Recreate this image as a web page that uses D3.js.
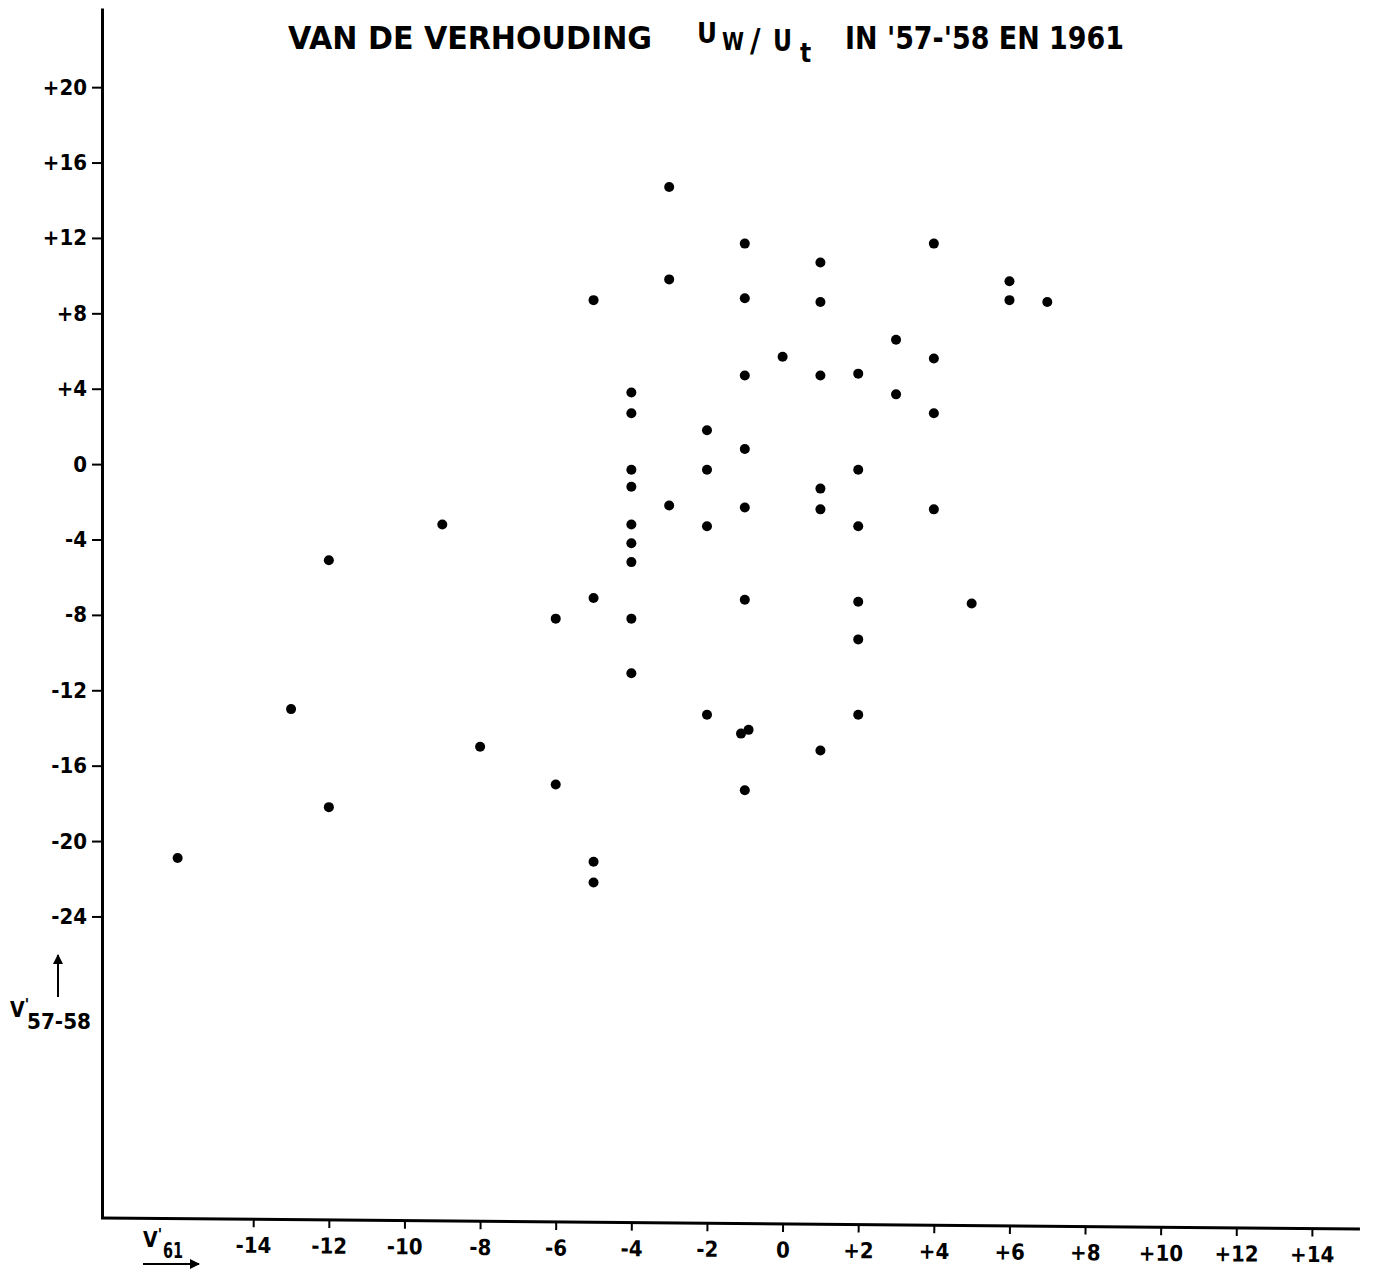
<!DOCTYPE html>
<html>
<head>
<meta charset="utf-8">
<script src="https://cdn.jsdelivr.net/npm/d3@7"></script>
<style>
  body { margin: 0; background: #fff; }
  svg { display: block; }
  text { font-family: "DejaVu Sans Condensed", "DejaVu Sans", sans-serif; font-weight: bold; fill: #000; }
</style>
</head>
<body>
<svg id="chart"></svg>
<script>
// V'61 (horizontal) en V'57-58 (vertical) per punt
const v61 = [-3, -1, 1, 4, -3, -5, -1, 1, 6, 6, 7, 3, 0, 4, -1, 1, 2, -4, 3, -4,
  4, -2, -1, -4, -2, 2, -4, 1, -3, -1, 1, 4, -9, -4, -2, 2, -4, -4, -12, -5,
  -1, 2, 5, -6, -4, 2, -4, -13, -2, 2, -1.1, -0.9, -8, 1, -6, -1, -12, -16, -5, -5];
const v5758 = [14.7, 11.7, 10.7, 11.7, 9.8, 8.7, 8.8, 8.6, 9.7, 8.7, 8.6, 6.6, 5.7, 5.6, 4.7, 4.7, 4.8, 3.8, 3.7, 2.7,
  2.7, 1.8, 0.8, -0.3, -0.3, -0.3, -1.2, -1.3, -2.2, -2.3, -2.4, -2.4, -3.2, -3.2, -3.3, -3.3, -4.2, -5.2, -5.1, -7.1,
  -7.2, -7.3, -7.4, -8.2, -8.2, -9.3, -11.1, -13, -13.3, -13.3, -14.3, -14.1, -15, -15.2, -17, -17.3, -18.2, -20.9, -21.1, -22.2];

const xTicks = [-14, -12, -10, -8, -6, -4, -2, 0, 2, 4, 6, 8, 10, 12, 14];
const yTicks = [20, 16, 12, 8, 4, 0, -4, -8, -12, -16, -20, -24];

const settings = {
  width: 1394,
  height: 1272,
  margin: { top: 8, left: 102, right: 1360, bottom: 1218 }
};
const m = settings.margin;

const svg = d3.select("#chart").attr("width", settings.width).attr("height", settings.height);

const x = d3.scaleLinear().domain([-18, 15.27]).range([m.left, m.right]);
const y = d3.scaleLinear().domain([-40, 24.2]).range([m.bottom, m.top]);

const fmt = d => d > 0 ? "+" + d : String(d);

// y-as
const gy = svg.append("g")
  .attr("transform", "translate(" + m.left + ",0)")
  .call(d3.axisLeft(y).tickValues(yTicks).tickFormat(fmt).tickSize(10).tickSizeOuter(0).tickPadding(5));
gy.select(".domain").attr("stroke", "#000").attr("stroke-width", 3);
gy.selectAll(".tick line").attr("stroke", "#000").attr("stroke-width", 2);
gy.selectAll(".tick text").attr("font-size", 22).style("font-family", "DejaVu Sans Condensed").style("font-weight", "bold");

// x-as (iets scheef, zoals in de scan)
const gx = svg.append("g")
  .attr("transform", "translate(0," + m.bottom + ") rotate(0.5," + m.left + ",0)")
  .call(d3.axisBottom(x).tickValues(xTicks).tickFormat(fmt).tickSize(8).tickSizeOuter(0).tickPadding(10));
gx.select(".domain").attr("stroke", "#000").attr("stroke-width", 3).attr("d", "M" + (m.left - 1) + ",0H" + m.right);
gx.selectAll(".tick line").attr("stroke", "#000").attr("stroke-width", 2);
gx.selectAll(".tick text").attr("font-size", 22).style("font-family", "DejaVu Sans Condensed").style("font-weight", "bold");

// punten
svg.append("g").selectAll("circle")
  .data(v61.map((d, i) => [d, v5758[i]]))
  .enter().append("circle")
  .attr("cx", d => x(d[0]))
  .attr("cy", d => y(d[1]))
  .attr("r", 5)
  .attr("fill", "#000");

// titel
const title = svg.append("g");
title.append("text").attr("x", 288).attr("y", 49).attr("font-size", 32)
  .attr("textLength", 364).attr("lengthAdjust", "spacingAndGlyphs").text("VAN DE VERHOUDING");
title.append("text").attr("x", 697).attr("y", 43).attr("font-size", 28)
  .attr("textLength", 20).attr("lengthAdjust", "spacingAndGlyphs").text("U");
title.append("text").attr("x", 722).attr("y", 50).attr("font-size", 24)
  .attr("textLength", 22).attr("lengthAdjust", "spacingAndGlyphs").text("W");
title.append("text").attr("x", 750).attr("y", 51).attr("font-size", 32).text("/");
title.append("text").attr("x", 773).attr("y", 51).attr("font-size", 30)
  .attr("textLength", 19).attr("lengthAdjust", "spacingAndGlyphs").text("U");
title.append("text").attr("x", 800).attr("y", 62).attr("font-size", 26).text("t");
title.append("text").attr("x", 845).attr("y", 49).attr("font-size", 32)
  .attr("textLength", 279).attr("lengthAdjust", "spacingAndGlyphs").text("IN '57-'58 EN 1961");

// as-labels
const defs = svg.append("defs");
defs.append("marker").attr("id", "ah").attr("viewBox", "0 0 10 10")
  .attr("refX", 9).attr("refY", 5).attr("markerWidth", 5).attr("markerHeight", 5)
  .attr("orient", "auto-start-reverse")
  .append("path").attr("d", "M0,0L10,5L0,10Z").attr("fill", "#000");

svg.append("line").attr("x1", 58).attr("y1", 997).attr("x2", 58).attr("y2", 955)
  .attr("stroke", "#000").attr("stroke-width", 2).attr("marker-end", "url(#ah)");
const yl = svg.append("text").attr("x", 10).attr("y", 1017).attr("font-size", 21);
yl.append("tspan").text("V");
yl.append("tspan").attr("dy", -7).attr("font-size", 16).text("'");
yl.append("tspan").attr("x", 27).attr("y", 1029)
  .attr("textLength", 64).attr("lengthAdjust", "spacingAndGlyphs").text("57-58");

const xl = svg.append("text").attr("x", 143).attr("y", 1247).attr("font-size", 21);
xl.append("tspan").text("V");
xl.append("tspan").attr("dy", -7).attr("font-size", 16).text("'");
xl.append("tspan").attr("x", 163).attr("y", 1258)
  .attr("textLength", 20).attr("lengthAdjust", "spacingAndGlyphs").text("61");
svg.append("line").attr("x1", 143).attr("y1", 1264).attr("x2", 199).attr("y2", 1264)
  .attr("stroke", "#000").attr("stroke-width", 2).attr("marker-end", "url(#ah)");
</script>
</body>
</html>
